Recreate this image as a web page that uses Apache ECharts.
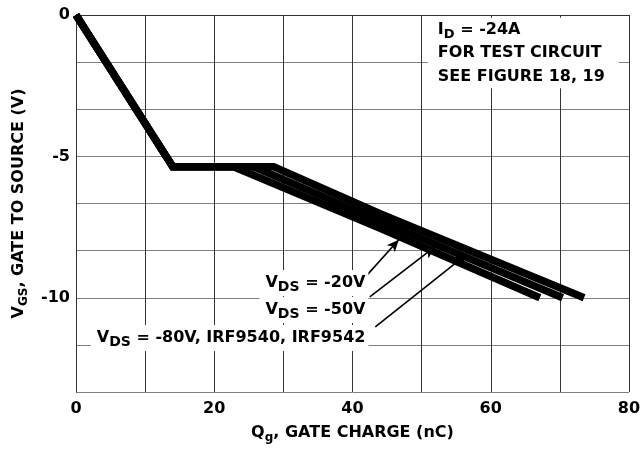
<!DOCTYPE html>
<html>
<head>
<meta charset="utf-8">
<script src="https://cdn.jsdelivr.net/npm/echarts@6/dist/echarts.min.js"></script>
<style>html,body{margin:0;padding:0;background:#fff}#c{width:644px;height:449px}</style>
</head>
<body>
<div id="c"></div>
<script>
// Curve data (Qg in nC, VGS in V)
const qg20 = [0, 14, 22.8, 44, 67.1];
const vgs20 = [0, -5.37, -5.37, -7.54, -10];
const qg50 = [0, 14, 25.7, 44, 70.4];
const vgs50 = [0, -5.37, -5.37, -7.29, -10];
const qg80 = [0, 14, 28.6, 44, 73.5];
const vgs80 = [0, -5.37, -5.37, -7.03, -10];

// Arrow annotations (data coordinates): tail -> tip
const arrowTailQ = [42.1, 42.5, 43.3];
const arrowTailV = [-9.2, -9.97, -11.03];
const arrowTipQ = [46.7, 51.9, 56.6];
const arrowTipV = [-7.95, -8.2, -8.45];

// Label texts and anchors
const labelTexts = ['{a|V}{s|DS}{a| = -20V}', '{a|V}{s|DS}{a| = -50V}', '{a|V}{s|DS}{a| = -80V, IRF9540, IRF9542}'];
const labelQ = [42.3, 42.3, 42.3];
const labelV = [-9.48, -10.43, -11.42];
const noteText = '{a|I}{d|D}{a| = -24A}\n{a|FOR TEST CIRCUIT}\n{a|SEE FIGURE 18, 19}';
const noteQ = 50.9;
const noteV = -0.1;

const xTicks = [0, 20, 40, 60, 80];
const yTicks = [0, -5, -10];

const FONT = 'DejaVu Sans';
const zip = (a, b) => a.map((v, i) => [v, b[i]]);

const chart = echarts.init(document.getElementById('c'));
const lineStyle = { color: '#000', width: 7.5, cap: 'butt', join: 'miter' };

const mkArrows = arrowTailQ.map((q, i) => [
  { coord: [q, arrowTailV[i]] },
  { coord: [arrowTipQ[i], arrowTipV[i]] }
]);

chart.setOption({
  animation: false,
  backgroundColor: '#fff',
  grid: { left: 76, right: 15, top: 15, bottom: 57 },
  xAxis: {
    type: 'value', min: 0, max: 80, interval: 10,
    axisLine: { show: true, lineStyle: { color: '#333', width: 1 } },
    axisTick: { show: false },
    splitLine: { show: true, lineStyle: { color: '#333', width: 1 } },
    axisLabel: {
      margin: 9, color: '#000', fontFamily: FONT, fontWeight: 'bold', fontSize: 16,
      formatter: v => xTicks.includes(Math.round(v)) && Math.abs(v - Math.round(v)) < 1e-6 ? String(Math.round(v)) : ''
    },
    name: '{a|Q}{s|g}{a|, GATE CHARGE (nC)}',
    nameLocation: 'middle', nameGap: 30,
    nameTextStyle: {
      color: '#000',
      rich: {
        a: { fontFamily: FONT, fontWeight: 'bold', fontSize: 16, color: '#000', lineHeight: 22 },
        s: { fontFamily: FONT, fontWeight: 'bold', fontSize: 12, color: '#000', lineHeight: 12, verticalAlign: 'bottom' }
      }
    }
  },
  yAxis: {
    type: 'value', min: -40 / 3, max: 0, interval: 5 / 3,
    axisLine: { show: true, lineStyle: { color: '#333', width: 1 } },
    axisTick: { show: false },
    splitLine: { show: true, lineStyle: { color: '#808080', width: 1 } },
    axisLabel: {
      margin: 6, color: '#000', fontFamily: FONT, fontWeight: 'bold', fontSize: 16,
      formatter: v => {
        const r = Math.round(v);
        return (Math.abs(v - r) < 1e-6 && yTicks.includes(r)) ? String(r === 0 ? 0 : r) : '';
      }
    },
    name: '{a|V}{s|GS}{a|, GATE TO SOURCE (V)}',
    nameLocation: 'middle', nameGap: 41, nameRotate: 90,
    nameTextStyle: {
      color: '#000',
      rich: {
        a: { fontFamily: FONT, fontWeight: 'bold', fontSize: 16, color: '#000', lineHeight: 22 },
        s: { fontFamily: FONT, fontWeight: 'bold', fontSize: 12, color: '#000', lineHeight: 12, verticalAlign: 'bottom' }
      }
    }
  },
  series: [
    { type: 'line', data: zip(qg80, vgs80), showSymbol: false, symbol: 'none', lineStyle, z: 3 },
    { type: 'line', data: zip(qg50, vgs50), showSymbol: false, symbol: 'none', lineStyle, z: 3 },
    {
      type: 'line', data: zip(qg20, vgs20), showSymbol: false, symbol: 'none', lineStyle, z: 3,
      markLine: {
        silent: true, animation: false,
        symbol: ['none', 'arrow'], symbolSize: [8, 12],
        label: { show: false },
        lineStyle: { color: '#000', width: 1.6, type: 'solid' },
        data: mkArrows
      }
    }
  ]
});

const richLbl = {
  a: { fontFamily: FONT, fontWeight: 'bold', fontSize: 16, fill: '#000', lineHeight: 22 },
  s: { fontFamily: FONT, fontWeight: 'bold', fontSize: 14, fill: '#000', lineHeight: 12, verticalAlign: 'bottom' }
};
const richNote = {
  a: { fontFamily: FONT, fontWeight: 'bold', fontSize: 16, fill: '#000', lineHeight: 23.5 },
  d: { fontFamily: FONT, fontWeight: 'bold', fontSize: 13, fill: '#000', lineHeight: 16, verticalAlign: 'bottom' }
};

const graphics = labelTexts.map((t, i) => {
  const p = chart.convertToPixel({ gridIndex: 0 }, [labelQ[i], labelV[i]]);
  return {
    type: 'text', x: p[0], y: p[1], z: 10,
    style: {
      text: t, rich: richLbl, align: 'right', verticalAlign: 'middle',
      backgroundColor: '#fff', padding: [2, 3, 2, 6]
    }
  };
});
const np = chart.convertToPixel({ gridIndex: 0 }, [noteQ, noteV]);
graphics.push({
  type: 'text', x: np[0], y: np[1], z: 10,
  style: {
    text: noteText, rich: richNote, align: 'left', verticalAlign: 'top',
    backgroundColor: '#fff', padding: [0, 14, 0, 10]
  }
});
chart.setOption({ graphic: graphics });
</script>
</body>
</html>
